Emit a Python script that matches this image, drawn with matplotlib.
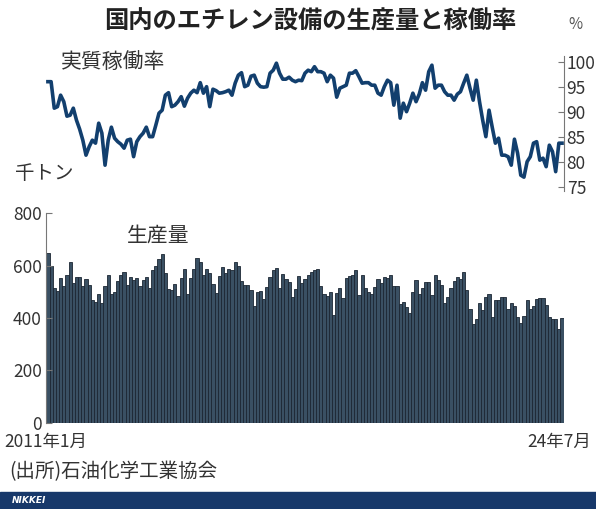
import matplotlib
matplotlib.use('Agg')
import matplotlib.pyplot as plt
from matplotlib.patches import Rectangle

plt.rcParams['font.family'] = ['Noto Sans CJK JP', 'DejaVu Sans']

# 月次データ 2011年1月〜2024年7月 (163か月)
months = list(range(163))

# 実質稼働率 (%)
rate = [
    96.0, 96.0, 90.7, 91.0, 93.3, 92.0, 89.1, 89.3, 90.7, 88.3, 86.5, 84.3, 81.3,
    83.0, 84.3, 83.7, 87.7, 85.7, 79.3, 84.3, 86.9, 84.7, 84.0, 83.5, 82.7, 84.3,
    84.5, 81.0, 84.0, 85.0, 85.7, 86.9, 85.0, 85.0, 87.3, 89.7, 90.3, 93.3, 93.8,
    91.0, 91.3, 92.0, 93.0, 91.1, 92.7, 93.7, 94.3, 93.8, 95.8, 93.7, 95.0, 91.0,
    94.5, 94.2, 93.7, 93.8, 94.0, 94.3, 93.3, 95.7, 97.3, 97.8, 95.0, 95.3, 97.1,
    97.3, 95.7, 95.0, 94.9, 95.0, 97.7, 98.3, 99.7, 97.7, 96.5, 96.5, 96.9, 96.3,
    96.0, 96.3, 96.2, 97.7, 98.3, 98.0, 99.0, 98.0, 98.0,
    97.7, 96.0, 97.3, 96.7, 92.9, 94.7, 95.0, 95.3, 97.7, 97.7, 98.2, 97.0, 95.7,
    95.8, 95.8, 95.3, 95.3, 93.7, 93.3, 95.0, 96.3, 95.8, 91.3, 95.3, 88.7, 91.7,
    90.0, 91.7, 93.7, 92.0, 93.5, 95.8, 94.3, 98.0, 99.3, 94.7, 95.3, 95.3, 94.0,
    93.3, 93.3, 92.3, 93.5, 94.0, 95.7, 97.3, 94.7, 92.3, 96.3, 92.0, 88.3, 85.0,
    90.3, 86.9, 83.7, 84.7, 81.3, 81.3, 81.0, 79.3, 84.5, 81.7, 77.3, 76.9, 80.0,
    81.0, 83.7, 84.0, 80.3, 80.7, 79.0, 83.3, 82.0, 78.0, 83.7, 83.7,
]

# 生産量 (千トン)
output = [
    648, 600, 515, 502, 553, 522, 565, 612, 535, 556, 556, 522, 547, 527, 468,
    462, 490, 459, 522, 562, 493, 500, 540, 565, 577, 525, 556, 543, 553, 522,
    543, 556, 515, 581, 600, 623, 644, 572, 512, 506, 528, 484, 553, 585, 490,
    553, 587, 629, 612, 565, 587, 572, 531, 496, 560, 594, 572, 585, 581, 612,
    600, 540, 527, 527, 506, 445, 500, 502, 472, 518, 556, 581, 590, 515, 569,
    547, 537, 481, 509,
    560, 535, 547, 562, 575, 581, 585, 522, 493, 484, 499, 411, 496, 514, 477,
    552, 560, 565, 581, 487, 562, 514, 499, 493, 518, 547, 535, 556, 552, 565,
    522, 522, 452, 462, 443, 418, 499, 543, 490, 514, 537, 537, 487, 565, 543,
    525, 459, 480, 514, 540, 556, 550, 577, 506, 436, 376, 396, 459, 430, 480,
    493, 405, 468, 468, 480, 480, 436, 459, 447, 405, 380, 408, 468, 434, 447,
    474, 477, 477, 449, 405, 396, 396, 358, 399,
]

rate_ticks = [75, 80, 85, 90, 95, 100]
output_ticks = [0, 200, 400, 600, 800]

num_size = 12.5
txt = '#333333'
axis_col = '#777777'

fig = plt.figure(figsize=(5.96, 5.09), dpi=100)

# 上段: 実質稼働率
ax1 = fig.add_axes([0.0772, 0.6254, 0.869, 0.2652])
ax1.plot(months, rate, color='#123f6e', linewidth=2.6, solid_joinstyle='round')
ax1.set_xlim(-0.6, 162.6)
ax1.set_ylim(74.2, 101.2)
for s in ['top', 'left', 'bottom']:
    ax1.spines[s].set_visible(False)
ax1.spines['right'].set_color(axis_col)
ax1.spines['right'].set_linewidth(0.8)
ax1.yaxis.tick_right()
ax1.set_yticks(rate_ticks)
ax1.tick_params(axis='y', direction='in', length=4, width=0.8, color=axis_col,
                pad=2, labelsize=num_size, labelcolor=txt)
ax1.set_xticks([])
ax1.patch.set_alpha(0)

# 下段: 生産量
ax2 = fig.add_axes([0.0772, 0.169, 0.869, 0.4125])
ax2.bar(months, output, width=1.0, color='#3a5063', edgecolor='#1c2733',
        linewidth=0.6)
ax2.set_xlim(-0.6, 162.6)
ax2.set_ylim(0, 800)
for s in ['top', 'right', 'bottom']:
    ax2.spines[s].set_visible(False)
ax2.spines['left'].set_color(axis_col)
ax2.spines['left'].set_linewidth(0.8)
ax2.set_yticks(output_ticks)
ax2.tick_params(axis='y', direction='in', length=4, width=0.8, color=axis_col,
                pad=3, labelsize=num_size, labelcolor=txt)
for lab in ax2.get_yticklabels():
    lab.set_verticalalignment('center_baseline')
ax2.set_xticks([])

# テキスト
fig.text(0.52, 0.957, '国内のエチレン設備の生産量と稼働率', ha='center', va='center',
         fontsize=17.5, fontweight='bold', color='#222222')
fig.text(0.965, 0.952, '%', ha='center', va='center', fontsize=11, color='#555555')
fig.text(0.102, 0.878, '実質稼働率', ha='left', va='center', fontsize=15, color=txt)
fig.text(0.025, 0.66, '千トン', ha='left', va='center', fontsize=14, color=txt)
fig.text(0.213, 0.538, '生産量', ha='left', va='center', fontsize=15, color=txt)
fig.text(0.008, 0.132, '2011年1月', ha='left', va='center', fontsize=num_size,
         color=txt)
fig.text(0.992, 0.132, '24年7月', ha='right', va='center', fontsize=num_size,
         color=txt)
fig.text(0.015, 0.073, '(出所)石油化学工業協会', ha='left', va='center',
         fontsize=14, color=txt)

# NIKKEI 帯
fig.patches.append(Rectangle((0, 0), 1, 0.034, transform=fig.transFigure,
                             color='#17386a', zorder=0))
fig.text(0.02, 0.016, 'NIKKEI', ha='left', va='center', fontsize=6.5,
         color='white', fontweight='bold', style='italic', family='DejaVu Sans')

fig.savefig('out.png', dpi=100)
